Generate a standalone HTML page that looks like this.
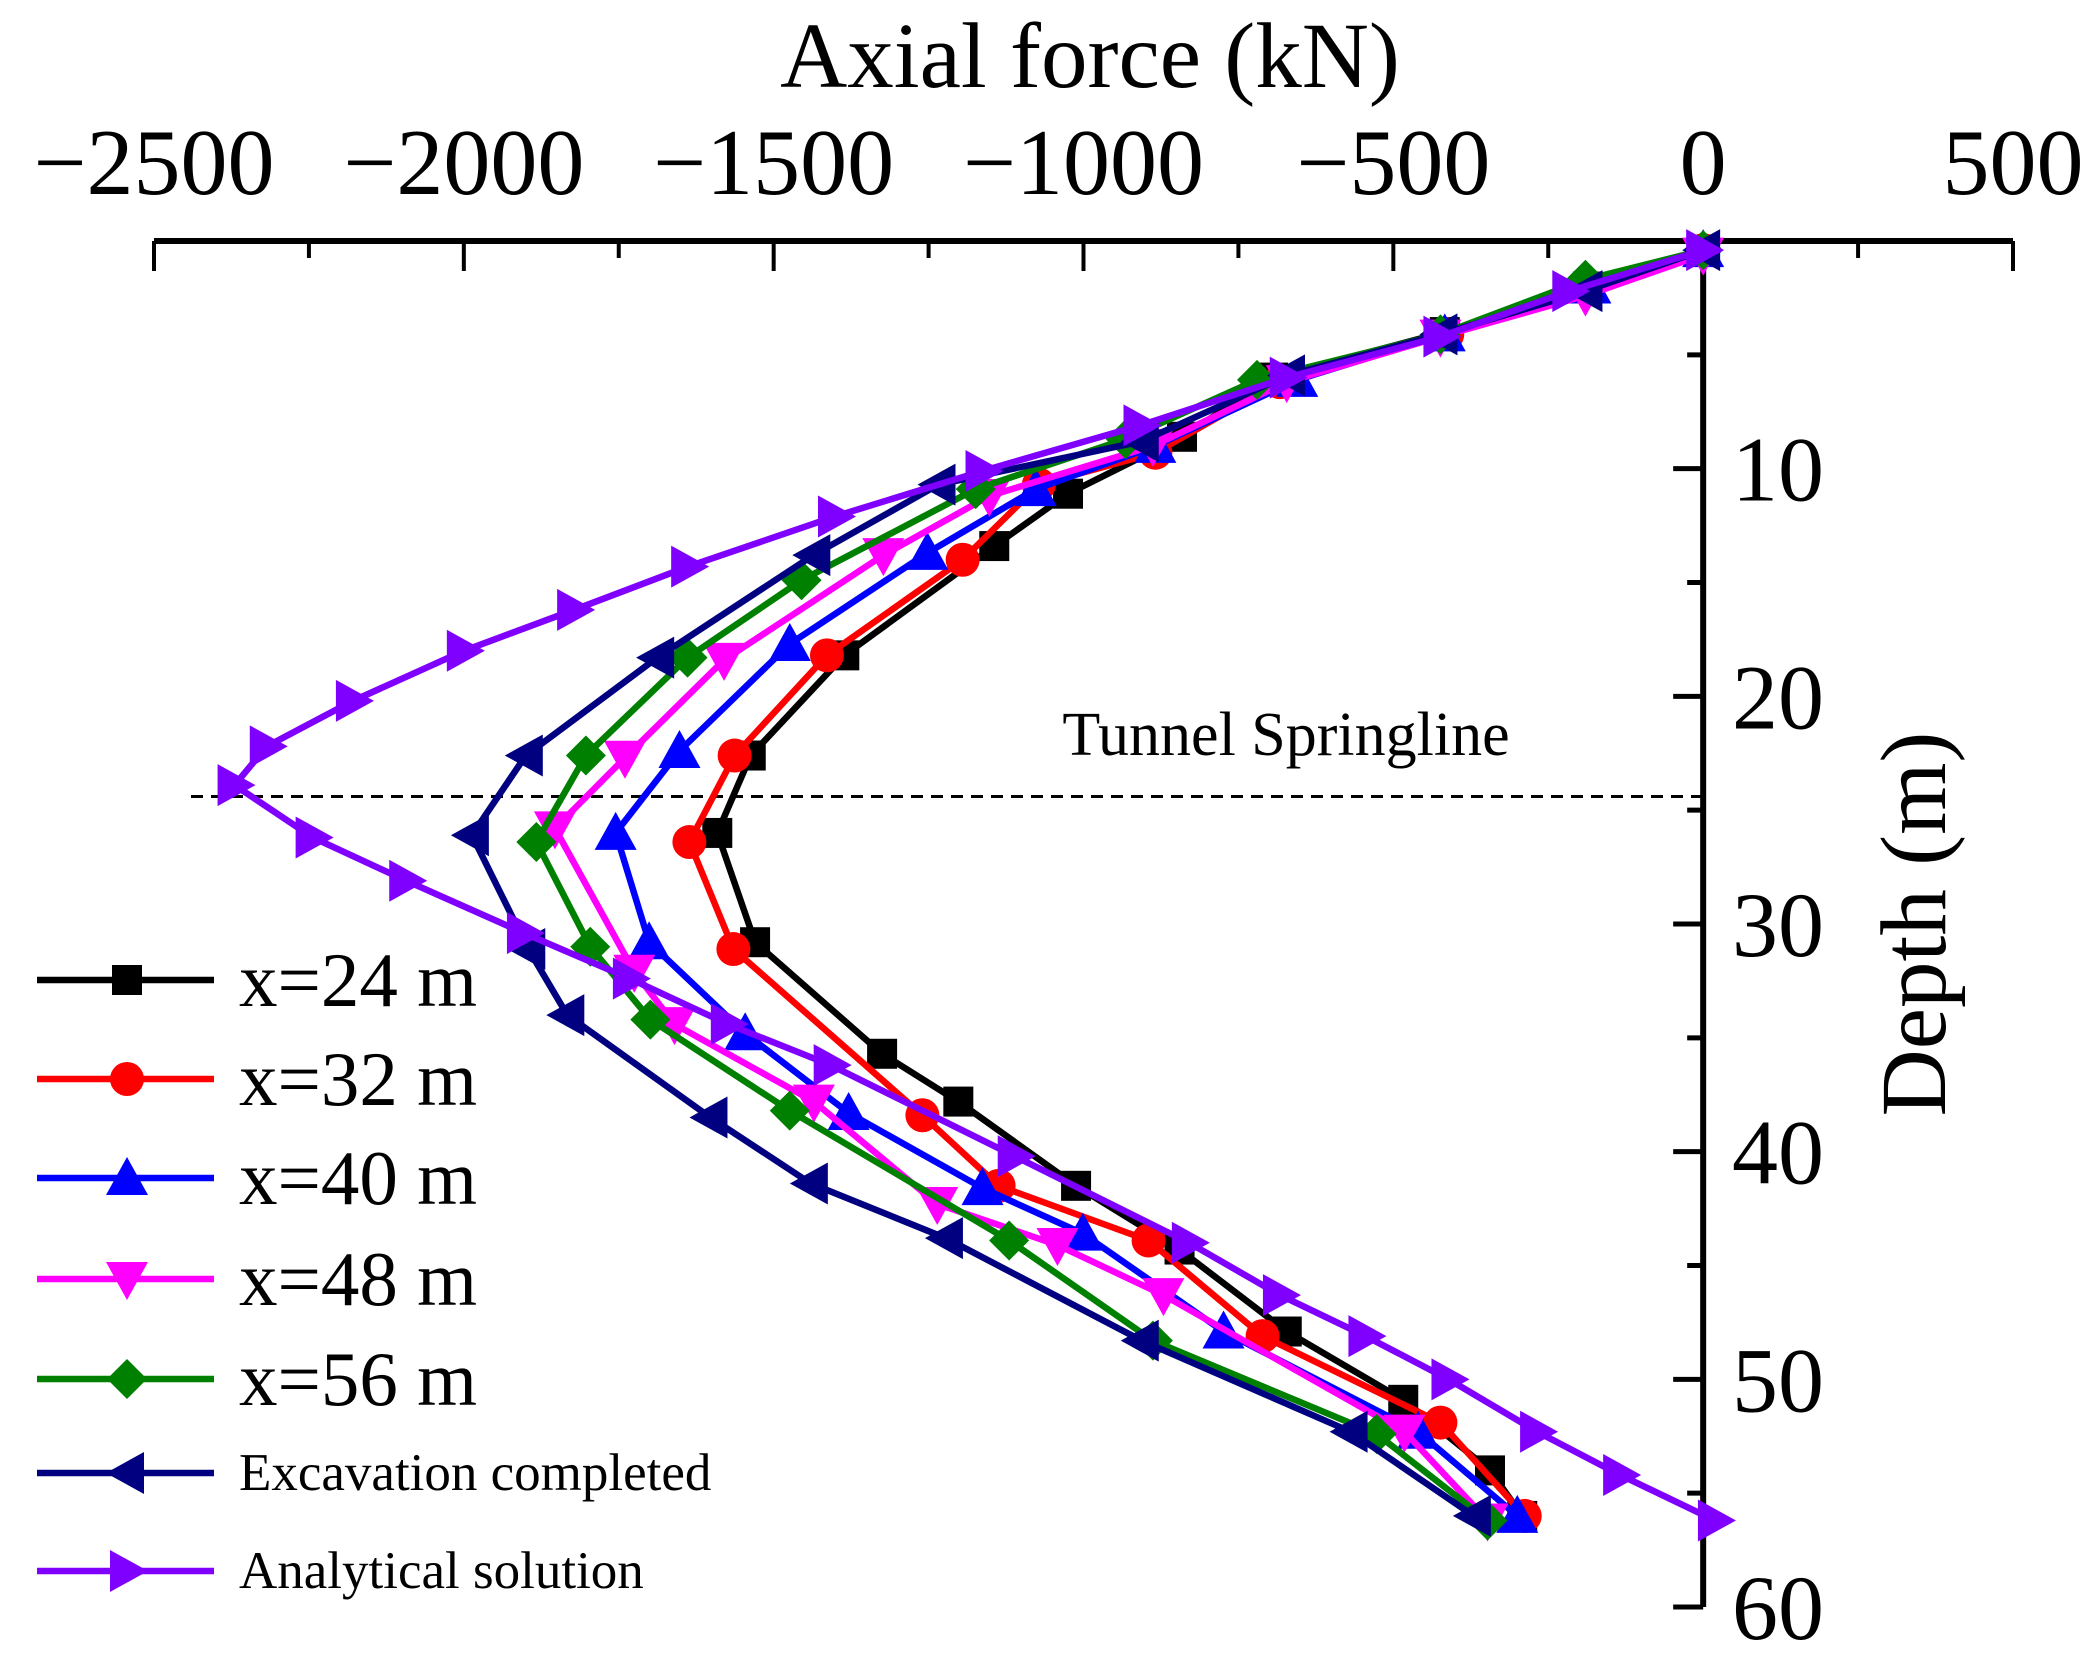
<!DOCTYPE html>
<html><head><meta charset="utf-8"><style>
html,body{margin:0;padding:0;background:#fff}
svg{display:block}
text{font-family:"Liberation Serif",serif;fill:#000}
</style></head><body>
<svg id="chart" width="2100" height="1664" viewBox="0 0 2100 1664" xmlns="http://www.w3.org/2000/svg">
<g id="axes"></g>
<g id="plot"></g>
<g id="legend"></g>
</svg>
<script>
const xTicks=[-2500,-2000,-1500,-1000,-500,0,500];
const xTickLabels=["\u22122500","\u22122000","\u22121500","\u22121000","\u2212500","0","500"];
const yTicks=[10,20,30,40,50,60];
const springDepth=24.4;
const sx24=[0,-186,-417,-694,-841,-1025,-1144,-1386,-1537,-1591,-1530,-1325,-1202,-1012,-845,-672,-484,-344,-292];
const sd24=[0.4,2.0,4.0,6.0,8.6,11.1,13.4,18.2,22.6,26.0,30.8,35.7,37.8,41.5,44.3,47.9,50.9,54.0,56.0];
const sx32=[0,-186,-413,-683,-884,-1072,-1195,-1414,-1563,-1636,-1565,-1260,-1137,-895,-711,-424,-288];
const sd32=[0.4,2.0,4.1,6.2,9.3,10.7,14.0,18.2,22.6,26.4,31.1,38.4,41.5,43.9,48.1,51.9,56.0];
const sx40=[0,-182,-417,-655,-884,-1077,-1252,-1474,-1652,-1755,-1701,-1546,-1379,-1163,-1001,-774,-460,-300];
const sd40=[0.4,2.0,4.1,6.1,9.0,10.9,13.7,17.7,22.4,26.0,30.8,34.8,38.3,41.6,43.6,47.9,52.3,56.0];
const sx48=[0,-190,-424,-672,-888,-1152,-1323,-1580,-1740,-1853,-1725,-1660,-1435,-1236,-1042,-871,-482,-348];
const sd48=[0.6,2.4,4.2,6.2,9.0,11.2,13.8,18.4,22.7,25.8,32.1,34.4,37.8,42.3,44.1,46.3,52.3,56.2];
const sx56=[0,-190,-424,-720,-932,-1174,-1455,-1639,-1803,-1883,-1796,-1699,-1474,-1120,-888,-527,-348];
const sd56=[0.4,1.7,4.1,6.1,8.7,10.9,14.9,18.3,22.6,26.4,31.0,34.2,38.2,43.9,48.3,52.4,56.2];
const sxEx=[0,-190,-424,-670,-906,-1234,-1436,-1688,-1900,-1987,-1896,-1833,-1602,-1440,-1222,-906,-569,-370];
const sdEx=[0.4,2.2,4.1,5.9,8.8,10.7,13.8,18.3,22.6,26.1,31.1,34.0,38.5,41.4,43.8,48.3,52.3,56.0];
const sxAn=[0,-216,-424,-672,-908,-1163,-1401,-1638,-1822,-2000,-2179,-2318,-2370,-2244,-2093,-1903,-1732,-1574,-1408,-1111,-830,-683,-545,-411,-268,-134,19];
const sdAn=[0.4,2.2,4.2,6.0,8.1,10.1,12.1,14.3,16.2,18.0,20.2,22.2,23.9,26.2,28.1,30.4,32.4,34.4,36.2,40.2,44.0,46.3,48.1,50.0,52.3,54.2,56.2];

const NS="http://www.w3.org/2000/svg";
const X0=154,X1=2013,XMIN=-2500,XMAX=500;
const Y0=241,Y1=1607,DMAX=60;
function sxf(v){return X0+(v-XMIN)/(XMAX-XMIN)*(X1-X0);}
function syf(d){return Y0+d/DMAX*(Y1-Y0);}
function mk(tag,attrs,parent){const e=document.createElementNS(NS,tag);for(const k in attrs)e.setAttribute(k,attrs[k]);parent.appendChild(e);return e;}
const axes=document.getElementById('axes'),plot=document.getElementById('plot'),legend=document.getElementById('legend');

let l=mk('line',{x1:X0,y1:Y0,x2:X1,y2:Y0,stroke:'#000','stroke-width':6},axes);


for(let v=XMIN;v<=XMAX;v+=250){
  const major=(v%500===0);
  const t=mk('line',{x1:sxf(v),y1:Y0,x2:sxf(v),y2:Y0+(major?30:17),stroke:'#000','stroke-width':4},axes);
  
  
}
xTicks.forEach((v,i)=>{
  const t=mk('text',{x:sxf(v),y:194,'font-size':94,'text-anchor':'middle'},axes);
  t.textContent=xTickLabels[i];
  
  
});
let tt=mk('text',{x:1090,y:87,'font-size':93,'text-anchor':'middle'},axes);
tt.textContent='Axial force (kN)';



const AX=sxf(0);
l=mk('line',{x1:AX,y1:Y0,x2:AX,y2:Y1,stroke:'#000','stroke-width':6},axes);


for(let d=5;d<=DMAX;d+=5){
  const major=(d%10===0);
  const t=mk('line',{x1:AX,y1:syf(d),x2:AX-(major?30:16),y2:syf(d),stroke:'#000','stroke-width':5},axes);
  
  
}
yTicks.forEach(d=>{
  const t=mk('text',{x:1732,y:syf(d)+32,'font-size':92},axes);
  t.textContent=String(d);
  
  
});
tt=mk('text',{x:0,y:0,'font-size':93,'text-anchor':'middle',transform:'translate(1945,924) rotate(-90)'},axes);
tt.textContent='Depth (m)';



l=mk('line',{x1:191,y1:syf(springDepth),x2:AX,y2:syf(springDepth),stroke:'#000','stroke-width':3,'stroke-dasharray':'12,8'},plot);


tt=mk('text',{x:1286,y:755,'font-size':62,'text-anchor':'middle'},plot);
tt.textContent='Tunnel Springline';



function marker(shape,x,y,color,parent){
  const s=19;let e;
  if(shape==='square')e=mk('rect',{x:x-15,y:y-15,width:30,height:30,fill:color},parent);
  else if(shape==='circle')e=mk('circle',{cx:x,cy:y,r:17,fill:color},parent);
  else if(shape==='up')e=mk('polygon',{points:`${x},${y-s-2} ${x-s-2},${y+s-2} ${x+s+2},${y+s-2}`,fill:color},parent);
  else if(shape==='down')e=mk('polygon',{points:`${x},${y+s+2} ${x-s-2},${y-s+2} ${x+s+2},${y-s+2}`,fill:color},parent);
  else if(shape==='diamond')e=mk('polygon',{points:`${x},${y-s-1} ${x+s+1},${y} ${x},${y+s+1} ${x-s-1},${y}`,fill:color},parent);
  else if(shape==='left')e=mk('polygon',{points:`${x-s-2},${y} ${x+s-2},${y-s-2} ${x+s-2},${y+s+2}`,fill:color},parent);
  else e=mk('polygon',{points:`${x+s+2},${y} ${x-s+2},${y-s-2} ${x-s+2},${y+s+2}`,fill:color},parent);
  return e;
}
const seriesList=[
 {xs:sx24,ds:sd24,c:'#000000',m:'square',label:'x=24 m',name:'x24',fs:77},
 {xs:sx32,ds:sd32,c:'#ff0000',m:'circle',label:'x=32 m',name:'x32',fs:77},
 {xs:sx40,ds:sd40,c:'#0000ff',m:'up',label:'x=40 m',name:'x40',fs:77},
 {xs:sx48,ds:sd48,c:'#ff00ff',m:'down',label:'x=48 m',name:'x48',fs:77},
 {xs:sx56,ds:sd56,c:'#008000',m:'diamond',label:'x=56 m',name:'x56',fs:77},
 {xs:sxEx,ds:sdEx,c:'#000080',m:'left',label:'Excavation completed',name:'excavation',fs:53},
 {xs:sxAn,ds:sdAn,c:'#8000ff',m:'right',label:'Analytical solution',name:'analytical',fs:53}
];
const legY=[980,1079,1178,1279,1379,1473,1571];
seriesList.forEach((s,i)=>{
  const g=mk('g',{},plot);
  
  
  const pts=s.xs.map((v,j)=>sxf(v)+','+syf(s.ds[j])).join(' ');
  const pl=mk('polyline',{points:pts,fill:'none',stroke:s.c,'stroke-width':6.5,'stroke-linejoin':'round'},g);
  
  
  s.xs.forEach((v,j)=>{
    const m=marker(s.m,sxf(v),syf(s.ds[j]),s.c,g);
    
    
  });
  const le=mk('g',{},legend);
  
  
  mk('line',{x1:37,y1:legY[i],x2:214,y2:legY[i],stroke:s.c,'stroke-width':6.5},le);
  marker(s.m,127,legY[i],s.c,le);
  const t=mk('text',{x:239,y:legY[i]+(s.fs>60?26:17),'font-size':s.fs},le);
  t.textContent=s.label;
});
</script>
</body></html>
